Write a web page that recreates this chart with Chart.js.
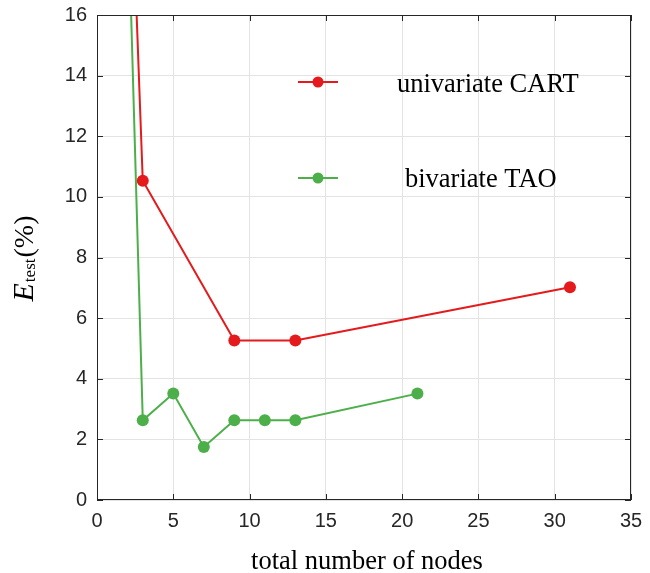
<!DOCTYPE html>
<html><head><meta charset="utf-8">
<script src="https://cdn.jsdelivr.net/npm/chart.js@4"></script>
<style>html,body{margin:0;padding:0;background:#fff}#wrap{width:650px;height:573px}</style>
</head><body><div id="wrap"><canvas id="c" width="650" height="573"></canvas></div>
<script>
// ---- data ----
const cartNodes = [1, 3, 9, 13, 31];
const cartErr   = [37.72, 10.53, 5.26, 5.26, 7.02];
const taoNodes  = [1, 3, 5, 7, 9, 11, 13, 21];
const taoErr    = [37.72, 2.63, 3.51, 1.75, 2.63, 2.63, 2.63, 3.51];
const seriesNames = ['univariate CART', 'bivariate TAO'];
const xTickValues = [0, 5, 10, 15, 20, 25, 30, 35];
const yTickValues = [0, 2, 4, 6, 8, 10, 12, 14, 16];
const xTitle = 'total number of nodes';
const yTitleMain = 'E', yTitleSub = 'test', yTitleUnit = '(%)';

const RED = '#e41a1c', GREEN = '#4daf4a', AXIS = '#262626';
const SANS = '"Liberation Sans", Arial, sans-serif';
const SERIF = '"Liberation Serif", "Times New Roman", serif';

function pts(xs, ys){ return xs.map((x,i)=>({x:x, y:ys[i]})); }

const frame = {
  id:'frame',
  afterDraw(chart){
    const {ctx, chartArea:a, scales:{x, y}} = chart;
    ctx.save();
    ctx.strokeStyle = AXIS; ctx.lineWidth = 1;
    ctx.strokeRect(a.left+0.5, a.top+0.5, a.right-a.left-1, a.bottom-a.top-1);
    ctx.beginPath();
    const T = 6;
    xTickValues.forEach(v=>{ const px=Math.round(x.getPixelForValue(v))+0.5;
      ctx.moveTo(px,a.bottom); ctx.lineTo(px,a.bottom-T);
      ctx.moveTo(px,a.top); ctx.lineTo(px,a.top+T); });
    yTickValues.forEach(v=>{ const py=Math.round(y.getPixelForValue(v))+0.5;
      ctx.moveTo(a.left,py); ctx.lineTo(a.left+T,py);
      ctx.moveTo(a.right,py); ctx.lineTo(a.right-T,py); });
    ctx.stroke();

    // x title
    ctx.fillStyle = '#000';
    ctx.font = '26.5px ' + SERIF;
    ctx.textAlign = 'center'; ctx.textBaseline = 'alphabetic';
    ctx.fillText(xTitle, 367, 569);

    // y title (rotated)
    const fMain = 'italic 30px ' + SERIF, fSub = '17px ' + SERIF, fUnit = '28px ' + SERIF;
    ctx.font = fMain; const wE = ctx.measureText(yTitleMain).width;
    ctx.font = fSub;  const wS = ctx.measureText(yTitleSub).width;
    ctx.font = fUnit; const wU = ctx.measureText(yTitleUnit).width;
    const total = wE + 1 + wS + 1 + wU;
    ctx.translate(33, 258.5);
    ctx.rotate(-Math.PI/2);
    ctx.textAlign = 'left';
    let cx = -total/2;
    ctx.font = fMain; ctx.fillText(yTitleMain, cx, 0); cx += wE + 1;
    ctx.font = fSub;  ctx.fillText(yTitleSub, cx, 1.5); cx += wS + 1;
    ctx.font = fUnit; ctx.fillText(yTitleUnit, cx, 0);
    ctx.restore();

    // legend
    ctx.save();
    const items = [{c:RED, y:82, tx:397, by:92, name:seriesNames[0]}, {c:GREEN, y:178, tx:405, by:187, name:seriesNames[1]}];
    items.forEach(it=>{
      ctx.strokeStyle = it.c; ctx.lineWidth = 2;
      ctx.beginPath(); ctx.moveTo(298, it.y); ctx.lineTo(338, it.y); ctx.stroke();
      ctx.fillStyle = it.c; ctx.beginPath(); ctx.arc(318, it.y, 5.5, 0, Math.PI*2); ctx.fill();
      ctx.fillStyle = '#000'; ctx.font = '26.5px ' + SERIF;
      ctx.textAlign = 'left'; ctx.textBaseline = 'alphabetic';
      ctx.fillText(it.name, it.tx, it.by);
    });
    ctx.restore();
  }
};

new Chart(document.getElementById('c'), {
  type: 'scatter',
  data: { datasets: [
    { label: seriesNames[0], data: pts(cartNodes, cartErr), showLine: true,
      borderColor: RED, backgroundColor: RED, borderWidth: 2, pointRadius: 6, pointHoverRadius: 6, pointBorderWidth: 0 },
    { label: seriesNames[1], data: pts(taoNodes, taoErr), showLine: true,
      borderColor: GREEN, backgroundColor: GREEN, borderWidth: 2, pointRadius: 6, pointHoverRadius: 6, pointBorderWidth: 0 }
  ]},
  options: {
    responsive: false, animation: false, devicePixelRatio: 1,
    layout: { padding: { left: 0, top: 15, right: 19, bottom: 0 } },
    plugins: { legend: { display: false }, tooltip: { enabled: false } },
    scales: {
      x: { type: 'linear', min: 0, max: 35,
        afterBuildTicks: s => { s.ticks = xTickValues.map(v=>({value:v})); },
        afterFit: s => { s.height = 73; s.paddingLeft = 0; s.paddingRight = 0; },
        grid: { color: '#e3e3e3', drawTicks: false }, border: { display: false },
        ticks: { color: AXIS, font: { family: SANS, size: 20 }, padding: 9, maxRotation: 0 } },
      y: { type: 'linear', min: 0, max: 16,
        afterBuildTicks: s => { s.ticks = yTickValues.map(v=>({value:v})); },
        afterFit: s => { s.width = 97; s.paddingTop = 0; s.paddingBottom = 0; },
        grid: { color: '#e3e3e3', drawTicks: false }, border: { display: false },
        ticks: { color: AXIS, font: { family: SANS, size: 20 }, padding: 10 } }
    }
  },
  plugins: [frame]
});
</script></body></html>
